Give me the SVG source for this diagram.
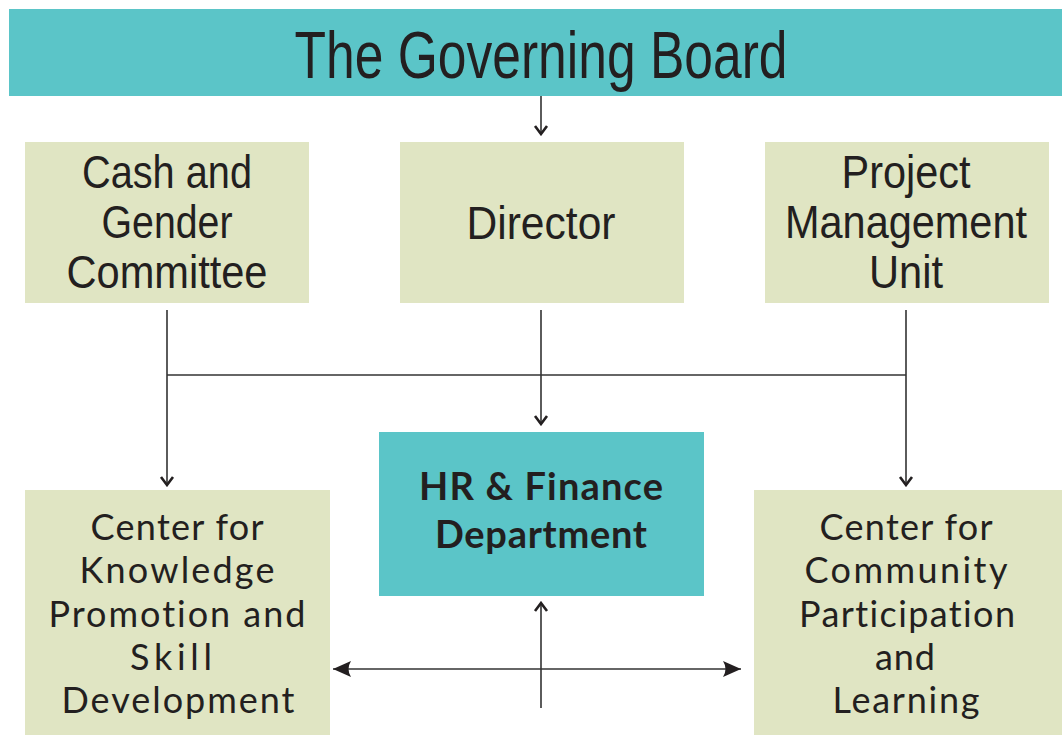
<svg xmlns="http://www.w3.org/2000/svg" width="1062" height="735" viewBox="0 0 1062 735">
<defs>
<style>
.teal{fill:#5BC5C8}
.green{fill:#E0E5C3}
.cond{font-family:"Liberation Sans Narrow","Liberation Sans",Arial,sans-serif;fill:#231F20;text-anchor:middle}
.opt{font-family:Lato,"Open Sans","Liberation Sans",sans-serif;fill:#231F20;text-anchor:middle;font-size:36px;font-variant-ligatures:none}
.bold{font-weight:bold;font-size:38px}
.ln{stroke:#333;stroke-width:1.6;fill:none}
</style>
<marker id="chev" viewBox="-11 -8 13 16" markerWidth="13" markerHeight="16" refX="0" refY="0" orient="auto-start-reverse" markerUnits="userSpaceOnUse">
<path d="M-8,-6 L0,0 L-8,6" fill="none" stroke="#231F20" stroke-width="2.6"/>
</marker>
<marker id="tri" viewBox="-20 -10 22 20" markerWidth="22" markerHeight="20" refX="0" refY="0" orient="auto-start-reverse" markerUnits="userSpaceOnUse">
<path d="M0,0 L-18,-8 Q-13,0 -18,8 Z" fill="#231F20"/>
</marker>
</defs>
<rect width="1062" height="735" fill="#fff"/>
<g id="board"><rect class="teal" x="9" y="9" width="1053" height="87"/>
<text class="cond" x="541" y="78" font-size="66" textLength="493" lengthAdjust="spacingAndGlyphs">The Governing Board</text></g>
<g id="cash"><rect class="green" x="25" y="142" width="284" height="161"/>
<text class="cond" font-size="46"><tspan x="167" y="188" textLength="170" lengthAdjust="spacingAndGlyphs">Cash and</tspan><tspan x="167" y="238" textLength="131" lengthAdjust="spacingAndGlyphs">Gender</tspan><tspan x="167" y="288" textLength="201" lengthAdjust="spacingAndGlyphs">Committee</tspan></text></g>
<g id="director"><rect class="green" x="400" y="142" width="284" height="161"/>
<text class="cond" font-size="46" x="541" y="239" textLength="149" lengthAdjust="spacingAndGlyphs">Director</text></g>
<g id="pmu"><rect class="green" x="765" y="142" width="284" height="161"/>
<text class="cond" font-size="46"><tspan x="906" y="188" textLength="129" lengthAdjust="spacingAndGlyphs">Project</tspan><tspan x="906" y="238" textLength="242" lengthAdjust="spacingAndGlyphs">Management</tspan><tspan x="906" y="288" textLength="74" lengthAdjust="spacingAndGlyphs">Unit</tspan></text></g>
<g id="hr"><rect class="teal" x="379" y="432" width="325" height="164"/>
<text class="opt bold"><tspan x="541" y="500" textLength="244" lengthAdjust="spacing">HR &amp; Finance</tspan><tspan x="541" y="548" textLength="212" lengthAdjust="spacing">Department</tspan></text></g>
<g id="knowledge"><rect class="green" x="25" y="490" width="305" height="245"/>
<text class="opt"><tspan x="177" y="540" textLength="173" lengthAdjust="spacing">Center for</tspan><tspan x="177" y="583" textLength="195" lengthAdjust="spacing">Knowledge</tspan><tspan x="177" y="627" textLength="257" lengthAdjust="spacing">Promotion and</tspan><tspan x="171" y="670" textLength="82" lengthAdjust="spacing">Skill</tspan><tspan x="178" y="713" textLength="233" lengthAdjust="spacing">Development</tspan></text></g>
<g id="community"><rect class="green" x="754" y="490" width="308" height="245"/>
<text class="opt"><tspan x="906" y="540" textLength="173" lengthAdjust="spacing">Center for</tspan><tspan x="906" y="583" textLength="203" lengthAdjust="spacing">Community</tspan><tspan x="907" y="627" textLength="216" lengthAdjust="spacing">Participation</tspan><tspan x="905" y="670" textLength="60" lengthAdjust="spacing">and</tspan><tspan x="906" y="713" textLength="147" lengthAdjust="spacing">Learning</tspan></text></g>
<g id="connectors">
<line class="ln" x1="541" y1="96" x2="541" y2="134" marker-end="url(#chev)"/>
<line class="ln" x1="541" y1="310" x2="541" y2="424" marker-end="url(#chev)"/>
<line class="ln" x1="167" y1="310" x2="167" y2="485" marker-end="url(#chev)"/>
<line class="ln" x1="906" y1="310" x2="906" y2="485" marker-end="url(#chev)"/>
<line class="ln" x1="167" y1="375" x2="906" y2="375"/>
<line class="ln" x1="541" y1="708" x2="541" y2="603" marker-end="url(#chev)"/>
<line class="ln" x1="333" y1="669" x2="741" y2="669" marker-start="url(#tri)" marker-end="url(#tri)"/>
</g>
</svg>
